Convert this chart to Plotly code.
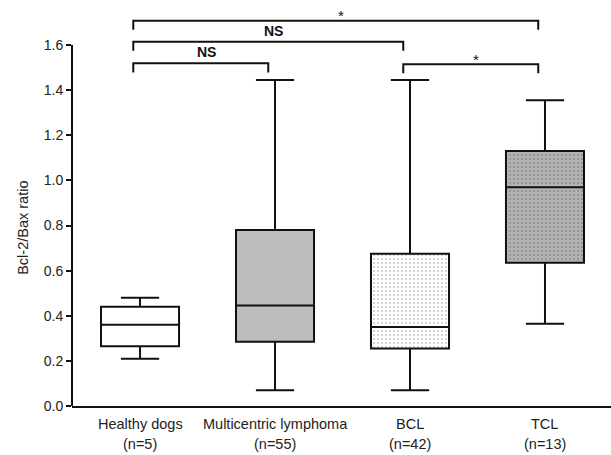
import plotly.graph_objects as go

categories = ["Healthy dogs", "Multicentric lymphoma", "BCL", "TCL"]
n_labels = ["(n=5)", "(n=55)", "(n=42)", "(n=13)"]
lower_whisker = [0.21, 0.07, 0.07, 0.365]
q1_vals = [0.265, 0.285, 0.255, 0.635]
medians = [0.36, 0.445, 0.35, 0.97]
q3_vals = [0.44, 0.78, 0.675, 1.13]
upper_whisker = [0.48, 1.445, 1.445, 1.355]

# comparisons: (left group, right group, label, bracket height)
comp_left = [0, 0, 0, 2]
comp_right = [1, 2, 3, 3]
comp_label = ["NS", "NS", "*", "*"]
comp_height = [1.519, 1.615, 1.708, 1.515]

y_ticks = [0.0, 0.2, 0.4, 0.6, 0.8, 1.0, 1.2, 1.4, 1.6]

styles = [
    dict(fill="white", pattern=None),
    dict(fill="#bdbdbd", pattern=None),
    dict(fill="white", pattern=dict(shape=".", fgcolor="#8a8a8a", bgcolor="white", size=4, solidity=0.2)),
    dict(fill="#b2b2b2", pattern=dict(shape=".", fgcolor="#6a6a6a", bgcolor="#b2b2b2", size=4, solidity=0.2)),
]

BOXW = 0.578
FONT = "Liberation Sans, Arial, sans-serif"
TXT = "#222222"

fig = go.Figure()

# patterned fills underneath
for i in range(len(categories)):
    st = styles[i]
    if st["pattern"] is not None:
        fig.add_trace(go.Bar(
            x=[i], y=[q3_vals[i] - q1_vals[i]], base=[q1_vals[i]], width=BOXW,
            marker=dict(color=st["fill"], pattern=st["pattern"], line=dict(width=0)),
            showlegend=False, hoverinfo="skip"))

for i in range(len(categories)):
    st = styles[i]
    fig.add_trace(go.Box(
        x=[i], q1=[q1_vals[i]], median=[medians[i]], q3=[q3_vals[i]],
        lowerfence=[lower_whisker[i]], upperfence=[upper_whisker[i]],
        width=BOXW, whiskerwidth=0.49, boxpoints=False,
        fillcolor="rgba(0,0,0,0)" if st["pattern"] is not None else st["fill"],
        line=dict(color="#111111", width=2), showlegend=False))

# y axis line only up to 1.6
fig.add_shape(type="line", xref="paper", yref="y", x0=0, x1=0, y0=0, y1=y_ticks[-1],
              line=dict(color="#111111", width=2))

# significance brackets
drop = 0.04
for a, b, lab, h in zip(comp_left, comp_right, comp_label, comp_height):
    xa, xb = a - 0.05, b - 0.05
    fig.add_shape(type="path", xref="x", yref="y",
                  path=f"M {xa},{h - drop} L {xa},{h} L {xb},{h} L {xb},{h - drop}",
                  line=dict(color="#111111", width=2))
    is_ns = lab == "NS"
    fig.add_annotation(x=(xa + xb) / 2 + 0.04, y=h, xref="x", yref="y",
                       text=f"<b>{lab}</b>" if is_ns else lab,
                       showarrow=False, yanchor="middle",
                       yshift=11 if is_ns else 5,
                       font=dict(family=FONT, size=14 if is_ns else 15, color="#111111"))

# x labels
for i, (c, n) in enumerate(zip(categories, n_labels)):
    fig.add_annotation(x=i, y=0, xref="x", yref="paper", text=c, showarrow=False,
                       yanchor="middle", yshift=-18, font=dict(family=FONT, size=14.5, color=TXT))
    fig.add_annotation(x=i, y=0, xref="x", yref="paper", text=n, showarrow=False,
                       yanchor="middle", yshift=-38, font=dict(family=FONT, size=14.5, color=TXT))

# y title
fig.add_annotation(x=0, y=0.79, xref="paper", yref="y", text="Bcl-2/Bax ratio",
                   textangle=-90, showarrow=False, xanchor="center", yanchor="middle",
                   xshift=-49, font=dict(family=FONT, size=14.5, color=TXT))

fig.update_layout(
    width=611, height=455,
    margin=dict(l=72, r=0, t=9, b=49),
    paper_bgcolor="white", plot_bgcolor="white",
    barmode="overlay", boxmode="overlay",
    showlegend=False,
    xaxis=dict(range=[-0.504, 3.489], showgrid=False, zeroline=False,
               showline=True, linecolor="#111111", linewidth=2,
               showticklabels=False, ticks=""),
    yaxis=dict(range=[0, 1.76], showgrid=False, zeroline=False, showline=False,
               tickvals=y_ticks, ticktext=[f"{v:.1f}" for v in y_ticks],
               ticks="outside", ticklen=5, tickwidth=2, tickcolor="#111111",
               tickfont=dict(family=FONT, size=14, color=TXT)),
)

fig.write_html("out.html")
